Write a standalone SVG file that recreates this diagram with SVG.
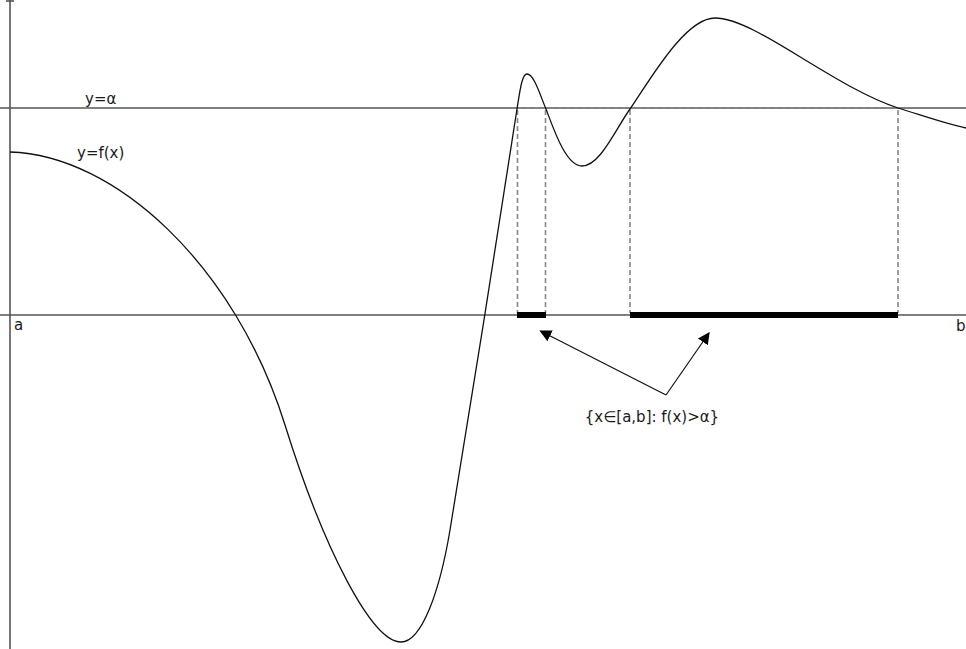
<svg xmlns="http://www.w3.org/2000/svg" width="966" height="649" viewBox="0 0 966 649">
<defs>
<style>
.axis{stroke:#555;stroke-width:1.6;fill:none}
.curve{stroke:#111;stroke-width:1.3;fill:none}
.dash{stroke:#888;stroke-width:1.6;stroke-dasharray:5,3;fill:none}
.bar{stroke:#000;stroke-width:6;fill:none}
.arrow{stroke:#111;stroke-width:1.2;fill:none}
.lbl{font-family:"DejaVu Sans",Verdana,sans-serif;font-size:15px;fill:#1a1a1a}
</style>
<marker id="ah" viewBox="0 0 10 10" refX="9" refY="5" markerWidth="12" markerHeight="12" markerUnits="userSpaceOnUse" orient="auto">
<path d="M0,0 L10,5 L0,10 z" fill="#000"/>
</marker>
</defs>
<rect width="966" height="649" fill="#fff"/>
<g id="axes">
<line class="axis" x1="10" y1="0" x2="10" y2="649"/>
<line class="axis" x1="6" y1="1" x2="14" y2="1"/>
<line class="axis" x1="0" y1="315" x2="966" y2="315"/>
<line class="axis" x1="0" y1="108" x2="966" y2="108"/>
</g>
<g id="projections">
<line class="dash" x1="517.5" y1="108" x2="898" y2="108"/>
<line class="dash" x1="517.5" y1="110" x2="517.5" y2="313"/>
<line class="dash" x1="545.5" y1="110" x2="545.5" y2="313"/>
<line class="dash" x1="630" y1="110" x2="630" y2="313"/>
<line class="dash" x1="898" y1="110" x2="898" y2="313"/>
</g>
<g id="set">
<line class="bar" x1="517" y1="315" x2="546" y2="315"/>
<line class="bar" x1="630" y1="315" x2="898" y2="315"/>
</g>
<g id="function">
<path class="curve" d="M10,152 C115,155 235,265 285,425 C324,550 372,642 401,642 C422,642 440,590 450,530 C465,440 505,190 517,109 C520,90 522,74 527,74 C534,74 540,95 546,109 C554,130 566,166 582,166 C600,166 615,130 630,109 C650,80 685,18 715,18 C755,18 830,85 898,108 C930,118 950,125 966,128"/>
</g>
<g id="connectors">
<line class="arrow" x1="666" y1="395" x2="709" y2="333" marker-end="url(#ah)"/>
<line class="arrow" x1="666" y1="395" x2="540.5" y2="331" marker-end="url(#ah)"/>
</g>
<g id="labels">
<text class="lbl" x="85" y="104">y=α</text>
<text class="lbl" x="77" y="158">y=f(x)</text>
<text class="lbl" x="14" y="330">a</text>
<text class="lbl" x="956" y="331">b</text>
<text class="lbl" x="652" y="422" text-anchor="middle">{x∈[a,b]: f(x)&gt;α}</text>
</g>
</svg>
